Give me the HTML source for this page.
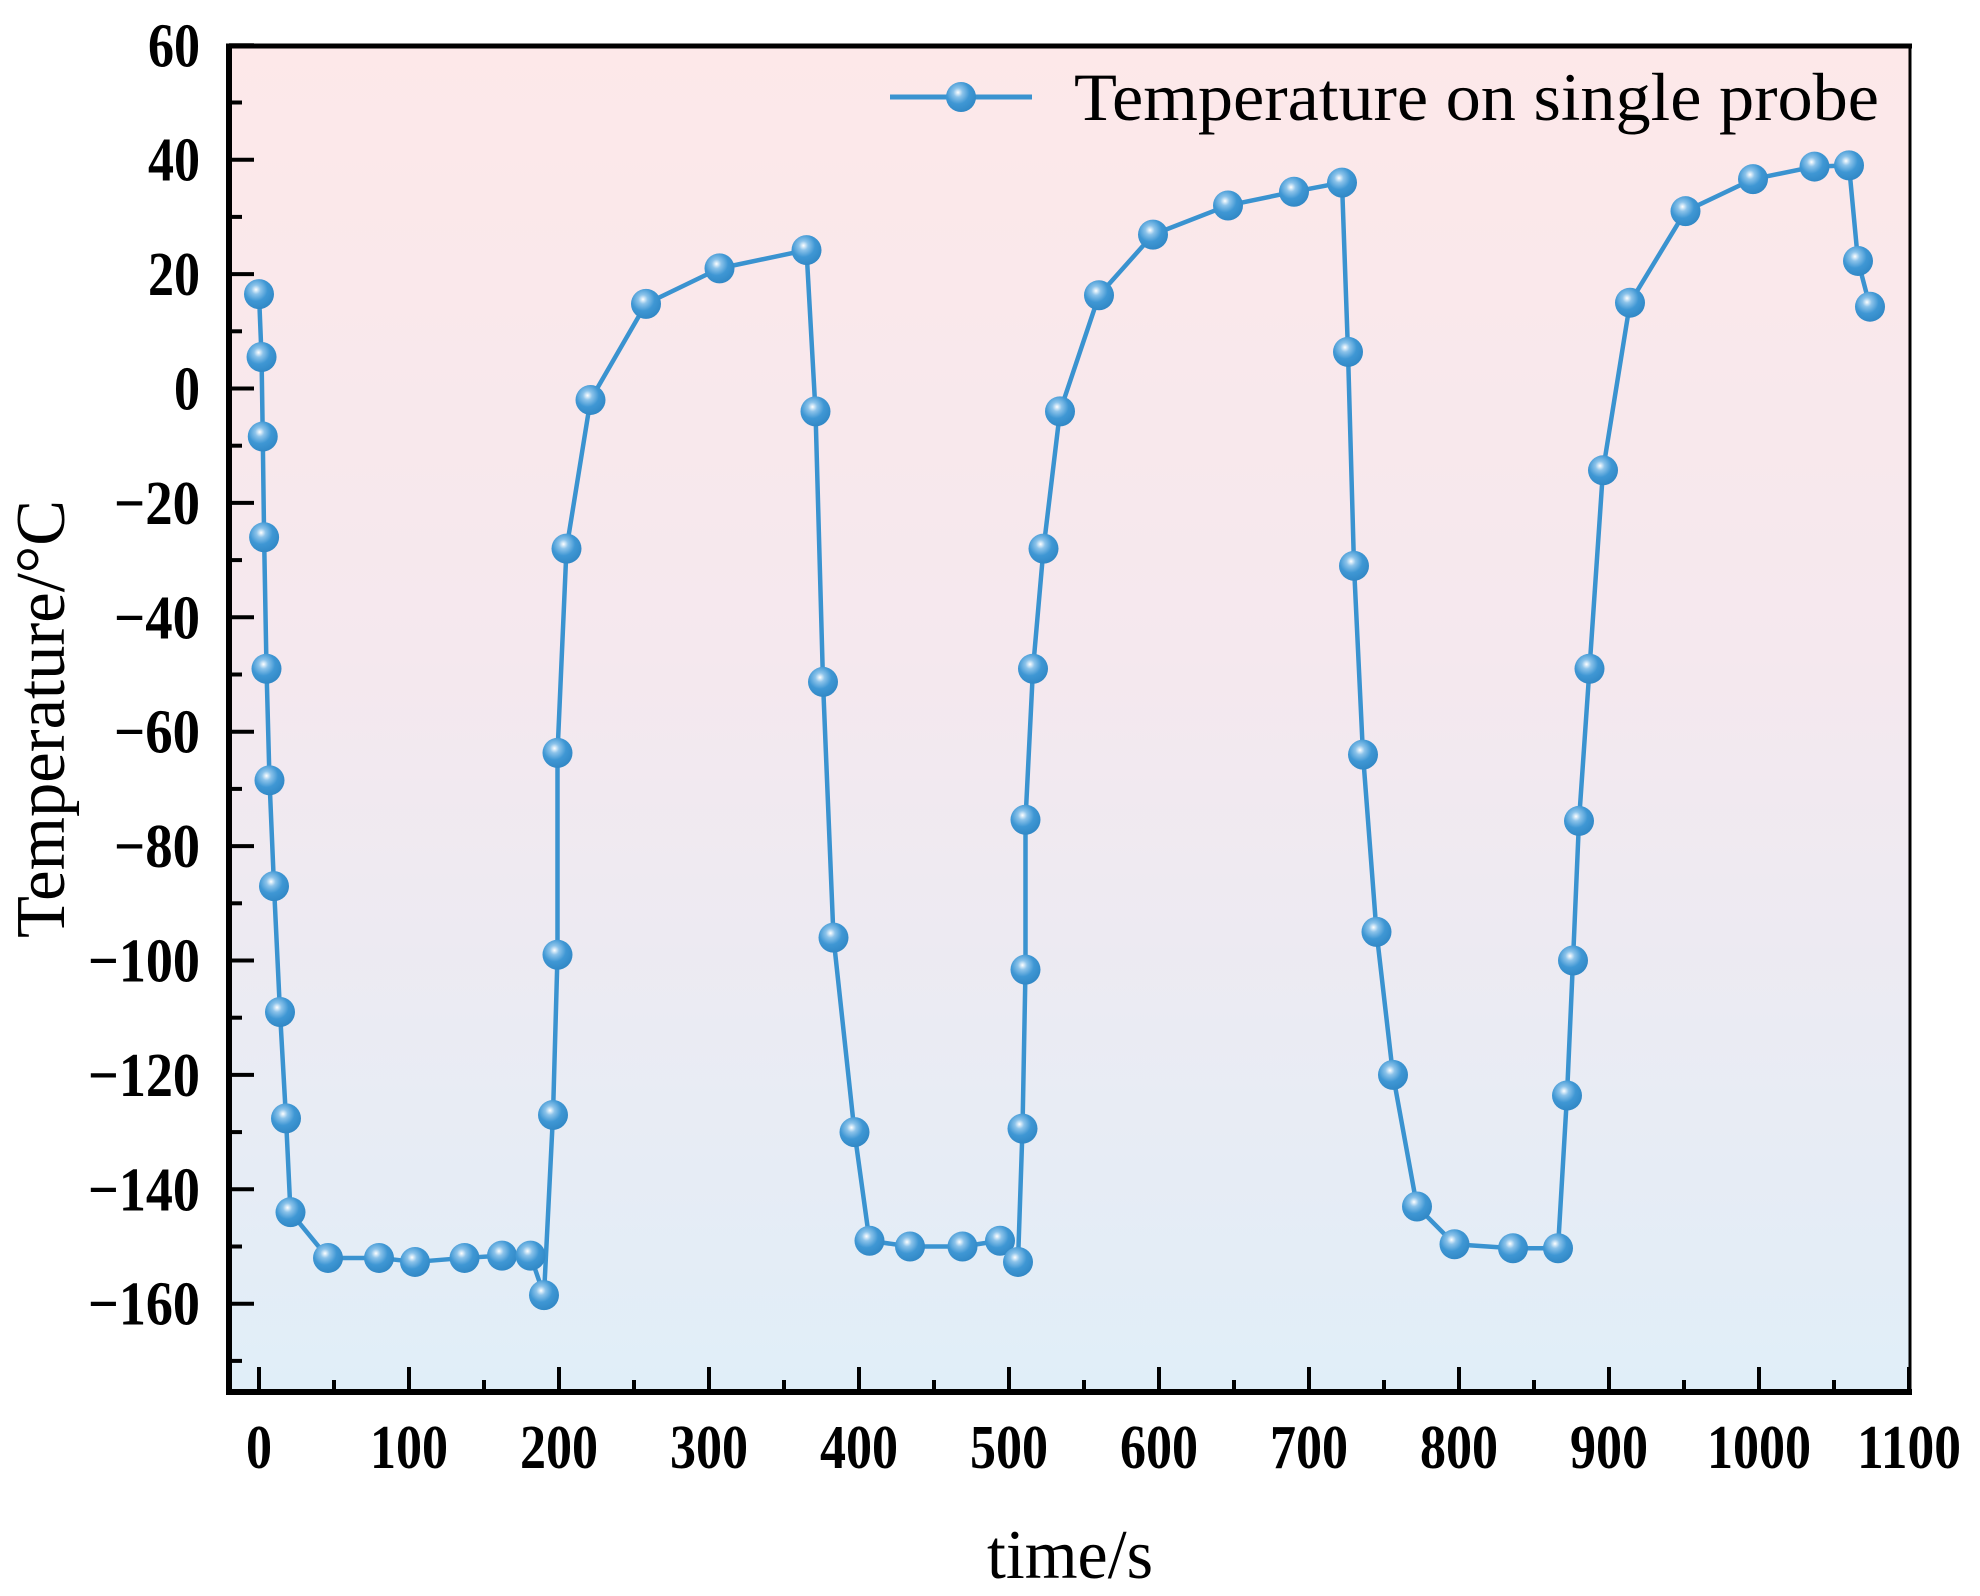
<!DOCTYPE html>
<html><head><meta charset="utf-8"><style>
html,body{margin:0;padding:0;background:#fff;}
svg{display:block;}
text{font-family:"Liberation Serif",serif;}
</style></head><body>
<svg id="chart" width="1980" height="1596" viewBox="0 0 1980 1596" xmlns="http://www.w3.org/2000/svg">
<defs>
<linearGradient id="bg" x1="0" y1="0" x2="0" y2="1">
<stop offset="0" stop-color="#fde8e9"/><stop offset="0.45" stop-color="#f5e8ee"/><stop offset="1" stop-color="#e0eef8"/>
</linearGradient>
<radialGradient id="ball" cx="0.4" cy="0.35" r="0.7">
<stop offset="0" stop-color="#ffffff"/><stop offset="0.22" stop-color="#8cc3ea"/><stop offset="0.55" stop-color="#3f97d4"/><stop offset="1" stop-color="#2f86c4"/>
</radialGradient>
</defs>
<rect x="229" y="46" width="1681" height="1346" fill="url(#bg)"/>
<g id="grid"></g>
<g id="series"></g>
<rect x="229" y="46" width="1681" height="1346" fill="none" stroke="#000" stroke-width="3"/>
<line x1="229" y1="44" x2="229" y2="1395" stroke="#000" stroke-width="6"/>
<line x1="226" y1="1392" x2="1912" y2="1392" stroke="#000" stroke-width="6"/>
<line x1="226" y1="46" x2="1912" y2="46" stroke="#000" stroke-width="5"/>
<g>
<line x1="890" y1="97" x2="1032" y2="97" stroke="#3a93d0" stroke-width="5"/>
<circle cx="961" cy="97" r="15" fill="url(#ball)"/>
<text x="1074" y="120" font-size="68" textLength="805" lengthAdjust="spacingAndGlyphs">Temperature on single probe</text>
</g>
<text x="987" y="1578" font-size="70" textLength="166" lengthAdjust="spacingAndGlyphs">time/s</text>
<text transform="translate(64,938) rotate(-90)" font-size="70" textLength="438" lengthAdjust="spacingAndGlyphs">Temperature/°C</text>
</svg>
<script>
const times = [0,1.7,2.5,3.4,5,7,10,14,18,21,46,80,104,137,162,181,190,196,199,199,205,221,258,307,365,371,376,383,397,407,434,469,494,506,509,511,511,516,523,534,560,596,646,690,722,726,730,736,745,756,772,797,836,866,872,876,880,887,896,914,951,996,1037,1060,1066,1074];
const temps = [16.5,5.5,-8.4,-26,-49,-68.5,-87,-109,-127.6,-144,-152,-152,-152.7,-152,-151.6,-151.6,-158.5,-127,-99,-63.7,-28,-2,14.8,21,24.2,-4,-51.3,-96,-130,-149,-150,-150,-149,-152.7,-129.4,-101.6,-75.4,-49,-28,-4,16.3,26.9,32,34.4,36,6.4,-31,-64,-95,-120,-143,-149.6,-150.3,-150.3,-123.6,-100,-75.6,-49,-14.3,15,31,36.6,38.8,39,22.3,14.3];
const xTicks = [0,100,200,300,400,500,600,700,800,900,1000,1100];
const yTicks = [60,40,20,0,-20,-40,-60,-80,-100,-120,-140,-160];
const NS = 'http://www.w3.org/2000/svg';
function xs(t){ return 259 + 1.5*t; }
function ys(v){ return 388.5 - 5.72*v; }
const grid = document.getElementById('grid');
const svg = document.getElementById('chart');
function mk(tag, attrs, parent){ const e=document.createElementNS(NS,tag); for(const k in attrs) e.setAttribute(k,attrs[k]); parent.appendChild(e); return e; }
xTicks.forEach(t=>{
  const l = mk('line',{x1:xs(t),x2:xs(t),y1:1392,y2:1367,stroke:'#000','stroke-width':4},grid);
  
  
  if(t<1100){
    const m = mk('line',{x1:xs(t+50),x2:xs(t+50),y1:1392,y2:1380,stroke:'#000','stroke-width':4},grid);
    
    
  }
  const s = String(t);
  const tx = mk('text',{x:xs(t),y:1468,'font-size':62,'font-weight':'bold','text-anchor':'middle',textLength:s.length*26,lengthAdjust:'spacingAndGlyphs'},svg);
  tx.textContent = s;
  
  
});
yTicks.forEach(v=>{
  const l = mk('line',{x1:229,x2:254,y1:ys(v),y2:ys(v),stroke:'#000','stroke-width':4},grid);
  
  
  const m = mk('line',{x1:229,x2:242,y1:ys(v-10),y2:ys(v-10),stroke:'#000','stroke-width':4},grid);
  
  
  const s = (v<0?'\u2212'+(-v):String(v));
  const len = String(Math.abs(v)).length*26 + (v<0?34:0);
  const tx = mk('text',{x:200,y:ys(v)+21,'font-size':62,'font-weight':'bold','text-anchor':'end',textLength:len,lengthAdjust:'spacingAndGlyphs'},svg);
  tx.textContent = s;
  
  
});
const series = document.getElementById('series');
const pts = times.map((t,i)=>xs(t)+','+ys(temps[i])).join(' ');
const pl = mk('polyline',{points:pts,fill:'none',stroke:'#3a93d0','stroke-width':4.5,'stroke-linejoin':'round'},series);


times.forEach((t,i)=>{
  const c = mk('circle',{cx:xs(t),cy:ys(temps[i]),r:15,fill:'url(#ball)'},series);
  
  
});
</script>
</body></html>
